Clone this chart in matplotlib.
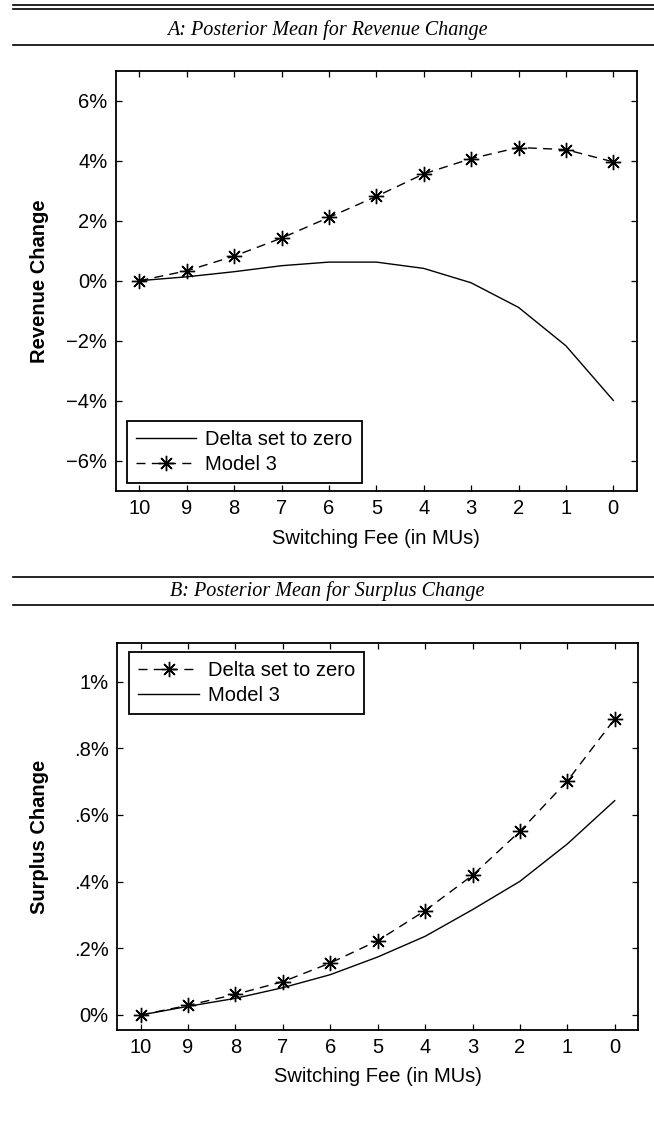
import matplotlib
matplotlib.use("Agg")
import matplotlib.pyplot as plt
from matplotlib.lines import Line2D

plt.rcParams['font.family'] = ['Liberation Sans', 'DejaVu Sans']

# ---------------- data ----------------
fees = [10, 9, 8, 7, 6, 5, 4, 3, 2, 1, 0]
fee_labels = ['10', '9', '8', '7', '6', '5', '4', '3', '2', '1', '0']

# Panel A: revenue change (%)
rev_delta_zero = [0, 0.13, 0.30, 0.50, 0.62, 0.62, 0.41, -0.07, -0.89, -2.17, -3.99]
rev_model3 = [0, 0.33, 0.82, 1.42, 2.11, 2.81, 3.56, 4.07, 4.44, 4.37, 3.96]
rev_yticks = [-6, -4, -2, 0, 2, 4, 6]
rev_yticklabels = ['\u22126%', '\u22124%', '\u22122%', '0%', '2%', '4%', '6%']

# Panel B: surplus change (%)
sur_delta_zero = [0, 0.029, 0.062, 0.100, 0.156, 0.223, 0.313, 0.419, 0.551, 0.702, 0.888]
sur_model3 = [0, 0.026, 0.050, 0.082, 0.121, 0.174, 0.236, 0.316, 0.401, 0.513, 0.643]
sur_yticks = [0, 0.2, 0.4, 0.6, 0.8, 1.0]
sur_yticklabels = ['0%', '.2%', '.4%', '.6%', '.8%', '1%']

title_a = 'A: Posterior Mean for Revenue Change'
title_b = 'B: Posterior Mean for Surplus Change'
xlabel = 'Switching Fee (in MUs)'

# ---------------- figure ----------------
W, H = 654, 1137
fig = plt.figure(figsize=(W / 100, H / 100), dpi=100)

def px_axes(l, t, r, b):
    return fig.add_axes([l / W, 1 - b / H, (r - l) / W, (b - t) / H])

axA = px_axes(115.7, 70.7, 637, 490.7)
axB = px_axes(117, 643.3, 638.4, 1030)

star = (8, 2, 0)
FS = 14.5
LW = 1.0
DASH = (0, (6.5, 4.5))

def style(ax):
    ax.set_xlim(10.5, -0.5)
    ax.set_xticks(fees)
    ax.set_xticklabels(fee_labels)
    ax.tick_params(direction='in', top=True, right=True, length=4.5, width=0.9,
                   labelsize=FS, pad=6)
    for s in ax.spines.values():
        s.set_linewidth(1.3)

leg_kw = dict(borderaxespad=0, fontsize=FS, handlelength=3.0, handletextpad=0.45,
              labelspacing=0.3, borderpad=0.45, fancybox=False, framealpha=1,
              edgecolor='black', numpoints=1)

# Panel A
axA.plot(fees, rev_delta_zero, color='black', lw=LW, label='Delta set to zero')
axA.plot(fees, rev_model3, color='black', lw=LW, ls=DASH, marker=star,
         ms=11, mew=1.0, label='Model 3')
style(axA)
axA.set_ylim(-7, 7)
axA.set_yticks(rev_yticks)
axA.set_yticklabels(rev_yticklabels)
axA.set_xlabel(xlabel, fontsize=FS)
axA.set_ylabel('Revenue Change', fontsize=FS, fontweight='bold')
axA.xaxis.set_label_coords(0.5, -0.090)
axA.yaxis.set_label_coords(-0.128, 0.5)
legA = axA.legend(loc='lower left', bbox_to_anchor=(0.021, 0.019), **leg_kw)
legA.get_frame().set_linewidth(1.3)

# Panel B
axB.plot(fees, sur_delta_zero, color='black', lw=LW, ls=DASH, marker=star,
         ms=11, mew=1.0, label='Delta set to zero')
axB.plot(fees, sur_model3, color='black', lw=LW, label='Model 3')
style(axB)
axB.set_ylim(-0.045, 1.115)
axB.set_yticks(sur_yticks)
axB.set_yticklabels(sur_yticklabels)
axB.set_xlabel(xlabel, fontsize=FS)
axB.set_ylabel('Surplus Change', fontsize=FS, fontweight='bold')
axB.xaxis.set_label_coords(0.5, -0.095)
axB.yaxis.set_label_coords(-0.131, 0.5)
legB = axB.legend(loc='upper left', bbox_to_anchor=(0.0236, 0.978), **leg_kw)
legB.get_frame().set_linewidth(1.3)

# ---------------- header rules and titles ----------------
def hline(y, lw=1.2):
    fig.add_artist(Line2D([13 / W, 1.0], [1 - y / H, 1 - y / H], color='black',
                          lw=lw, transform=fig.transFigure))

hline(4.5)
hline(8.5)
fig.text(0.5 + 0 / W, 1 - 30 / H, title_a, ha='center', va='center',
         family=['Liberation Serif'], style='italic', fontsize=14.5)
hline(45)

hline(577)
fig.text(0.5 + 0 / W, 1 - 591 / H, title_b, ha='center', va='center',
         family=['Liberation Serif'], style='italic', fontsize=14.5)
hline(605)

fig.savefig('out.png', dpi=100)
